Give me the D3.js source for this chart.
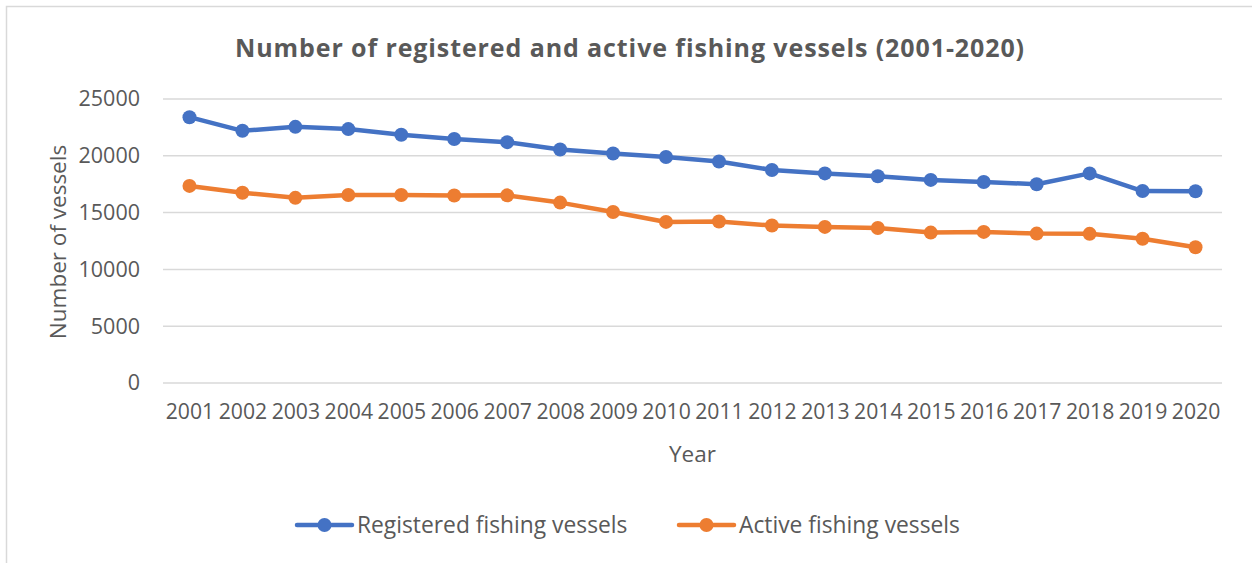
<!DOCTYPE html>
<html>
<head>
<meta charset="utf-8">
<script src="https://cdn.jsdelivr.net/npm/d3@7"></script>
<style>
  html, body { margin: 0; padding: 0; background: #fff; }
  svg { display: block; font-family: "Open Sans", "Noto Sans", sans-serif; }
</style>
</head>
<body>
<svg id="chart" width="1252" height="563"></svg>
<script>
// Fishing fleet counts per year
const years = ["2001","2002","2003","2004","2005","2006","2007","2008","2009","2010",
               "2011","2012","2013","2014","2015","2016","2017","2018","2019","2020"];
const registered = [23400, 22200, 22550, 22350, 21850, 21480, 21200, 20550, 20200, 19900,
                    19500, 18750, 18450, 18200, 17880, 17700, 17500, 18450, 16900, 16880];
const active = [17350, 16750, 16300, 16550, 16550, 16500, 16520, 15880, 15050, 14180,
                14210, 13860, 13740, 13640, 13240, 13300, 13150, 13130, 12700, 11950];
const yTicks = [0, 5000, 10000, 15000, 20000, 25000];
const seriesNames = ["Registered fishing vessels", "Active fishing vessels"];
const seriesColors = ["#4472C4", "#ED7D31"];

const svg = d3.select("#chart");
const textColor = "#595959";
const gridColor = "#d9d9d9";

// Chart frame
svg.append("rect")
  .attr("x", 6.5).attr("y", 6.5)
  .attr("width", 1300).attr("height", 600)
  .attr("fill", "#fff")
  .attr("stroke", gridColor).attr("stroke-width", 1.5);

const plot = { left: 163, right: 1222, top: 99, bottom: 383 };

const x = d3.scalePoint().domain(years)
  .range([plot.left, plot.right]).padding(0.5);
const y = d3.scaleLinear().domain([0, 25000])
  .range([plot.bottom, plot.top]);

// Horizontal gridlines
svg.append("g").selectAll("line")
  .data(yTicks).join("line")
  .attr("x1", plot.left).attr("x2", plot.right)
  .attr("y1", d => y(d)).attr("y2", d => y(d))
  .attr("stroke", gridColor).attr("stroke-width", 1.5);

// Y axis labels
const yAxis = svg.append("g")
  .attr("transform", `translate(${plot.left},0)`)
  .call(d3.axisLeft(y).tickValues(yTicks).tickSize(0).tickPadding(23).tickFormat(d3.format("d")));
yAxis.select(".domain").remove();
yAxis.selectAll("text")
  .attr("fill", textColor).style("font-size", "21.5px").style("font-family", "Open Sans");

// X axis labels
const xAxis = svg.append("g")
  .attr("transform", `translate(0,${plot.bottom})`)
  .call(d3.axisBottom(x).tickSize(0).tickPadding(21));
xAxis.select(".domain").remove();
xAxis.selectAll("text")
  .attr("fill", textColor).style("font-size", "21.2px").style("font-family", "Open Sans");

// Lines and markers
const series = [registered, active];
const line = d3.line().x((d, i) => x(years[i])).y(d => y(d));
series.forEach((vals, s) => {
  svg.append("path")
    .datum(vals)
    .attr("d", line)
    .attr("fill", "none")
    .attr("stroke", seriesColors[s])
    .attr("stroke-width", 4.5)
    .attr("stroke-linejoin", "round")
    .attr("stroke-linecap", "round");
  svg.append("g").selectAll("circle")
    .data(vals).join("circle")
    .attr("cx", (d, i) => x(years[i]))
    .attr("cy", d => y(d))
    .attr("r", 7)
    .attr("fill", seriesColors[s]);
});

// Title
svg.append("text")
  .attr("x", 630).attr("y", 57)
  .attr("text-anchor", "middle")
  .attr("fill", textColor)
  .style("font-size", "25px").style("font-weight", "bold")
  .style("letter-spacing", "0.9px")
  .text("Number of registered and active fishing vessels (2001-2020)");

// Axis titles
svg.append("text")
  .attr("transform", `translate(66,${(plot.top + plot.bottom) / 2 + 1}) rotate(-90)`)
  .attr("text-anchor", "middle")
  .attr("fill", textColor)
  .style("font-size", "22.5px")
  .text("Number of vessels");

svg.append("text")
  .attr("x", (plot.left + plot.right) / 2).attr("y", 462)
  .attr("text-anchor", "middle")
  .attr("fill", textColor)
  .style("font-size", "22.5px")
  .text("Year");

// Legend
const legendItems = [{ x: 297 }, { x: 679 }];
legendItems.forEach((it, s) => {
  const g = svg.append("g").attr("transform", `translate(${it.x},525)`);
  g.append("line").attr("x1", 0).attr("x2", 55).attr("y1", 0).attr("y2", 0)
    .attr("stroke", seriesColors[s]).attr("stroke-width", 4.5).attr("stroke-linecap", "round");
  g.append("circle").attr("cx", 27.5).attr("cy", 0).attr("r", 7).attr("fill", seriesColors[s]);
  g.append("text").attr("x", 60).attr("y", 8)
    .attr("fill", textColor).style("font-size", "22.8px")
    .text(seriesNames[s]);
});
</script>
</body>
</html>
